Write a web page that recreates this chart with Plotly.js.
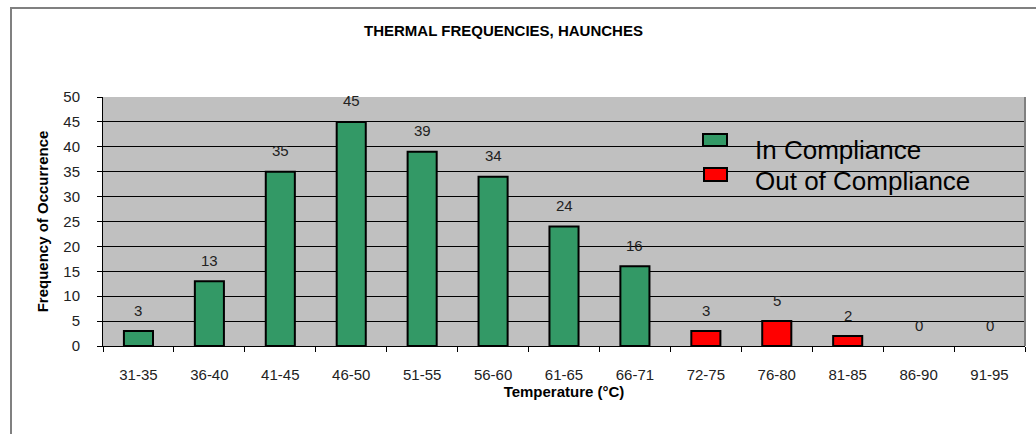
<!DOCTYPE html>
<html><head><meta charset="utf-8">
<script src="https://cdn.plot.ly/plotly-3.0.1.min.js"></script>
<style>
html,body{margin:0;padding:0;background:#fff;overflow:hidden}
#chart{width:1036px;height:434px;position:absolute;left:0;top:0}
#frame{position:absolute;left:10px;top:7px;width:1100px;height:500px;border-left:2px solid #808080;border-top:2px solid #808080;pointer-events:none}
</style></head>
<body>
<div id="chart"></div>
<div id="frame"></div>
<script>
const categories = ["31-35","36-40","41-45","46-50","51-55","56-60","61-65","66-71","72-75","76-80","81-85","86-90","91-95"];
const inCompliance = [3,13,35,45,39,34,24,16,null,null,null,null,null];
const outCompliance = [null,null,null,null,null,null,null,null,3,5,2,0,0];
const labels = [3,13,35,45,39,34,24,16,3,5,2,0,0];
const seriesNames = ["In Compliance","Out of Compliance"];
const seriesColors = ["#339966","#ff0000"];

const lineW = arr => arr.map(v => (v === 0 ? 0 : 2));

const traces = [
  {type:'bar', name:seriesNames[0], x:categories, y:inCompliance, width:0.41, showlegend:false,
   marker:{color:seriesColors[0], line:{color:'#000', width:lineW(inCompliance)}}},
  {type:'bar', name:seriesNames[1], x:categories, y:outCompliance, width:0.41, showlegend:false,
   marker:{color:seriesColors[1], line:{color:'#000', width:lineW(outCompliance)}}}
];

const FONT = 'Liberation Sans, Arial, sans-serif';

const annotations = categories.map((c,i)=>({
  x:c, y:labels[i], xref:'x', yref:'y', text:String(labels[i]), showarrow:false,
  yshift:21, font:{family:FONT, size:15, color:'#222'}
}));

// custom legend (paper coords: plot area x 103..1025, y 97..346)
const px = x => (x - 103) / 922;
const py = y => (346 - y) / 249;
const legendRows = [
  {box:[703,727,134,146], textY:150},
  {box:[704,727,168,181], textY:181}
];
const shapes = [
  {type:'line', xref:'paper', yref:'paper', x0:1, x1:1, y0:0, y1:1, line:{color:'#808080', width:2}}
];
legendRows.forEach((r,i)=>{
  shapes.push({type:'rect', xref:'paper', yref:'paper', x0:px(r.box[0]), x1:px(r.box[1]),
    y0:py(r.box[3]), y1:py(r.box[2]), fillcolor:seriesColors[i], line:{color:'#000', width:2}});
  annotations.push({xref:'paper', yref:'paper', x:px(753), y:py(r.textY), xanchor:'left', yanchor:'middle',
    text:seriesNames[i], showarrow:false, font:{family:FONT, size:26, color:'#000'}});
});

const layout = {
  width:1036, height:434,
  margin:{l:103, r:11, t:97, b:88},
  paper_bgcolor:'rgba(0,0,0,0)', plot_bgcolor:'#c0c0c0',
  barmode:'overlay', showlegend:false,
  font:{family:FONT, size:15, color:'#222'},
  title:{text:'<b>THERMAL FREQUENCIES, HAUNCHES</b>', x:0.486, xanchor:'center', y:0.93, yanchor:'middle',
    font:{family:FONT, size:15, color:'#000'}},
  xaxis:{type:'category', tickson:'boundaries', ticks:'outside', ticklen:5, tickcolor:'#000',
    showline:true, linecolor:'#000', linewidth:1, showgrid:false, ticklabelstandoff:15,
    title:{text:'<b>Temperature (°C)</b>', standoff:4, font:{size:15, color:'#000'}}},
  yaxis:{range:[0,50], dtick:5, ticks:'outside', ticklen:5, tickcolor:'#000',
    showline:true, linecolor:'#000', linewidth:1, gridcolor:'#000', gridwidth:1,
    zeroline:false, ticklabelstandoff:14,
    title:{text:'<b>Frequency of Occurrence</b>', standoff:11, font:{size:15, color:'#000'}}},
  shapes:shapes,
  annotations:annotations
};

Plotly.newPlot('chart', traces, layout, {displayModeBar:false, staticPlot:true});
</script>
</body></html>
